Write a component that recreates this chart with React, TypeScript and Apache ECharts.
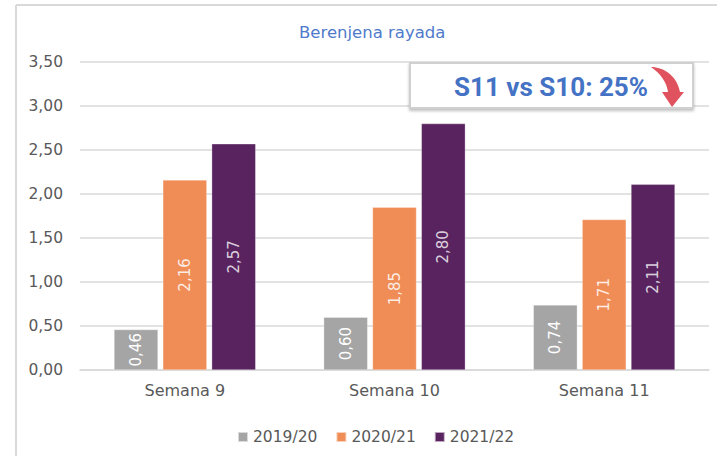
import React, { useEffect, useRef } from "react";
import * as echarts from "echarts";

const categories = ["Semana 9", "Semana 10", "Semana 11"];
const seriesNames = ["2019/20", "2020/21", "2021/22"];
const values2019 = [0.46, 0.6, 0.74];
const values2020 = [2.16, 1.85, 1.71];
const values2021 = [2.57, 2.8, 2.11];
const seriesColors = ["#A5A5A5", "#F08C55", "#58235F"];
const labelColors = ["#FFFFFF", "rgba(255,255,255,0.85)", "rgba(255,255,255,0.8)"];
const titleText = "Berenjena rayada";
const noteText = "S11 vs S10: 25%";

const arrowPath =
  "M 1 2 C 14 2, 27 11, 30 27 L 34 27 L 22 42 L 12 27 L 18 27 C 17 18, 11 9, 1 2 Z";

let registered = false;

export default function App() {
  const ref = useRef<HTMLDivElement>(null);

  useEffect(() => {
    document.body.style.margin = "0";
    if (!registered) {
      echarts.graphic.registerShape("logo", echarts.graphic.extendPath(arrowPath, {}) as any);
      registered = true;
    }
    const chart = echarts.init(ref.current!, null, { renderer: "svg" });
    const font = "'DejaVu Sans', sans-serif";
    const fmt = (v: number) => v.toFixed(2).replace(".", ",");
    const allValues = [values2019, values2020, values2021];

    chart.setOption({
      animation: false,
      backgroundColor: "#FFFFFF",
      title: {
        text: titleText,
        left: 294,
        top: 19,
        textStyle: { color: "#4F7ACB", fontSize: 16.5, fontWeight: "normal", fontFamily: font },
      },
      legend: {
        data: seriesNames,
        left: 232,
        top: 424,
        icon: "rect",
        itemWidth: 10,
        itemHeight: 10,
        itemGap: 18,
        textStyle: { color: "#595959", fontSize: 15.5, fontFamily: font },
      },
      grid: { left: 80, right: 8, top: 62, bottom: 86, containLabel: false },
      xAxis: {
        type: "category",
        data: categories,
        axisLine: { lineStyle: { color: "#D9D9D9", width: 1.5 } },
        axisTick: { show: false },
        axisLabel: { color: "#595959", fontSize: 16, fontFamily: font, margin: 12 },
      },
      yAxis: {
        type: "value",
        min: 0,
        max: 3.5,
        interval: 0.5,
        axisLine: { show: false },
        axisTick: { show: false },
        splitLine: { lineStyle: { color: "#D9D9D9", width: 1.5 } },
        axisLabel: {
          color: "#595959",
          fontSize: 15.5,
          fontFamily: font,
          margin: 17,
          formatter: (v: number) => fmt(v),
        },
      },
      series: seriesNames.map((name, i) => ({
        name,
        type: "bar",
        data: allValues[i],
        barWidth: 44,
        barGap: "11%",
        itemStyle: { color: seriesColors[i], borderColor: "rgba(255,255,255,0.6)", borderWidth: 0.5 },
        label: {
          show: true,
          position: "inside",
          rotate: 90,
          color: labelColors[i],
          fontSize: 15,
          fontFamily: font,
          formatter: (p: any) => fmt(p.value),
        },
      })),
      graphic: [
        {
          type: "line",
          shape: { x1: 16, y1: 5, x2: 717, y2: 5 },
          style: { stroke: "#D9D9D9", lineWidth: 2 },
          z: 100,
        },
        {
          type: "line",
          shape: { x1: 16, y1: 5, x2: 16, y2: 456 },
          style: { stroke: "#D9D9D9", lineWidth: 2 },
          z: 100,
        },
        {
          type: "rect",
          shape: { x: 410, y: 63, width: 283, height: 45 },
          style: {
            fill: "#FFFFFF",
            stroke: "#D0D0D0",
            lineWidth: 2,
            shadowBlur: 3,
            shadowOffsetY: 2,
            shadowColor: "rgba(0,0,0,0.25)",
          },
          z: 100,
        },
        {
          type: "text",
          x: 648,
          y: 87,
          style: {
            text: noteText,
            fill: "#4472C4",
            font: "bold 26px Roboto, sans-serif",
            align: "right",
            verticalAlign: "middle",
          },
          z: 101,
        },
        {
          type: "logo",
          x: 650,
          y: 65,
          scaleX: 1,
          scaleY: 1,
          style: { fill: "#E0525E" },
          z: 101,
        },
      ],
    });
    return () => chart.dispose();
  }, []);

  return <div ref={ref} style={{ width: 717, height: 456 }} />;
}
